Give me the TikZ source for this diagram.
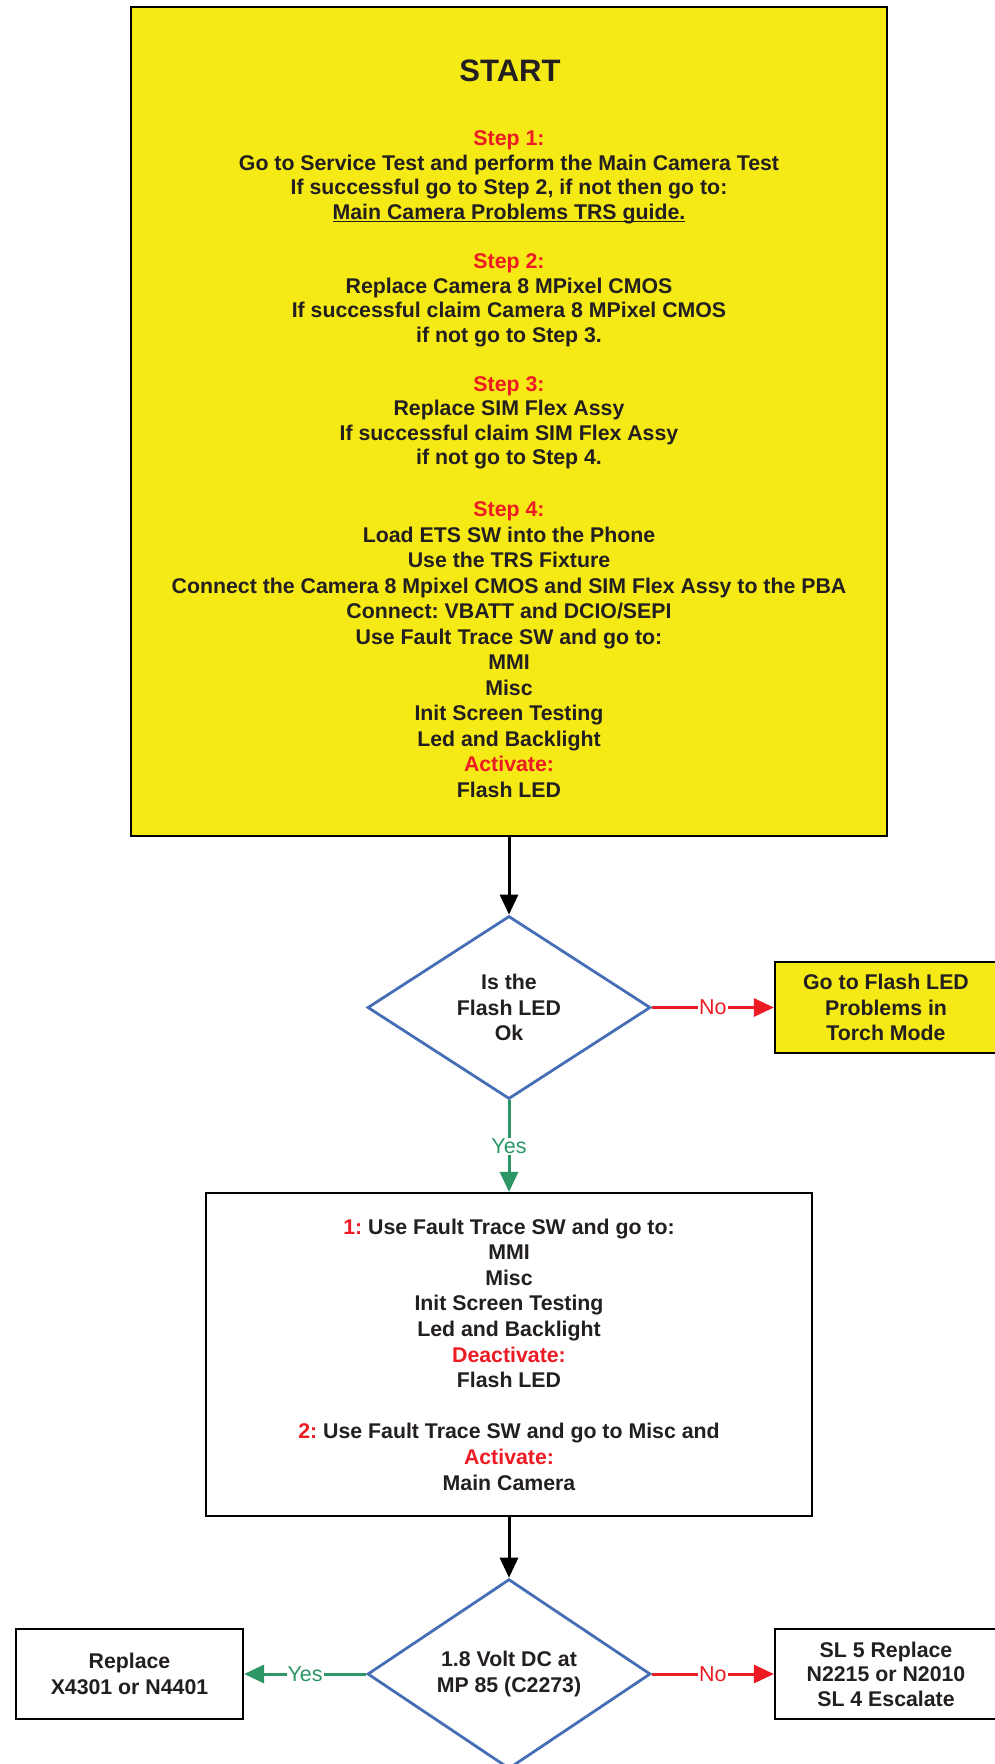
\documentclass[tikz,border=0pt]{standalone}
\usepackage{fontspec}
\setmainfont{Liberation Sans}
\usetikzlibrary{arrows.meta,shapes.geometric}
\definecolor{ybox}{RGB}{245,233,22}
\definecolor{rtxt}{RGB}{237,28,36}
\definecolor{gline}{RGB}{44,150,102}
\definecolor{bdia}{RGB}{70,110,182}
\definecolor{ktxt}{RGB}{35,31,32}
\newcommand\redtxt[1]{\textcolor{rtxt}{#1}}
\newcommand\ulx[1]{\setbox0\hbox{#1}\rlap{\rule[-3pt]{\wd0}{1.8pt}}#1}
\frenchspacing
\begin{document}
\begin{tikzpicture}[x=1pt,y=-1pt,
  tx/.style={font=\bfseries\fontsize{21.3pt}{24.5pt}\selectfont, text=ktxt, align=center, inner sep=0pt},
  txw/.style={tx, font=\bfseries\fontsize{21.3pt}{25.5pt}\selectfont},
  rectbox/.style={draw=black, line width=2.2pt, inner sep=0pt},
  decide/.style={diamond, draw=bdia, line width=2.8pt, fill=white, minimum width=283pt, minimum height=183pt, txw},
  lbl/.style={font=\fontsize{21.5pt}{21.5pt}\selectfont, fill=white, inner xsep=1pt, inner ysep=1pt},
  flowk/.style={draw=black, line width=3pt, -{Triangle[length=20pt,width=18pt]}},
  flowr/.style={draw=rtxt, line width=3pt, -{Triangle[length=20pt,width=18pt]}},
  flowg/.style={draw=gline, line width=3pt, -{Triangle[length=20pt,width=18pt]}}]
\useasboundingbox (0,0) rectangle (995,1764);
\fill[white] (0,0) rectangle (995,1764);
\clip (0,0) rectangle (995,1764);

% start box
\node[rectbox, fill=ybox, minimum width=756pt, minimum height=829pt] (start) at (509,421.5) {};
\node[tx, font=\bfseries\fontsize{31pt}{30pt}\selectfont] (title) at (510,71) {START};
\node[tx] (s1) at (509,177.5) {\redtxt{Step 1:}\\Go to Service Test and perform the Main Camera Test\\If successful go to Step 2, if not then go to:\\\ulx{Main Camera Problems TRS guide.}};
\node[tx] (s2) at (509,300.5) {\redtxt{Step 2:}\\Replace Camera 8 MPixel CMOS\\If successful claim Camera 8 MPixel CMOS\\if not go to Step 3.};
\node[tx] (s3) at (509,423) {\redtxt{Step 3:}\\Replace SIM Flex Assy\\If successful claim SIM Flex Assy\\if not go to Step 4.};
\node[txw] (s4) at (509,649.5) {\redtxt{Step 4:}\\Load ETS SW into the Phone\\Use the TRS Fixture\\Connect the Camera 8 Mpixel CMOS and SIM Flex Assy to the PBA\\Connect: VBATT and DCIO/SEPI\\Use Fault Trace SW and go to:\\MMI\\Misc\\Init Screen Testing\\Led and Backlight\\\redtxt{Activate:}\\Flash LED};

% decision 1
\node[decide] (d1) at (509,1007.5) {Is the\\Flash LED\\Ok};
\node[rectbox, fill=ybox, minimum width=222pt, minimum height=91pt, txw] (flash) at (886,1007.5) {Go to Flash LED\\Problems in\\Torch Mode};

% action box
\node[rectbox, fill=white, minimum width=606pt, minimum height=323pt, tx, font=\bfseries\fontsize{21.3pt}{25.6pt}\selectfont] (act) at (509,1354.5) {\redtxt{1:} Use Fault Trace SW and go to:\\MMI\\Misc\\Init Screen Testing\\Led and Backlight\\\redtxt{Deactivate:}\\Flash LED\\[25.6pt]\redtxt{2:} Use Fault Trace SW and go to Misc and\\\redtxt{Activate:}\\Main Camera};

% decision 2
\node[decide] (d2) at (509,1674) {1.8 Volt DC at\\MP 85 (C2273)};
\node[rectbox, fill=white, minimum width=227pt, minimum height=90pt, txw] (repl) at (129.5,1674) {Replace\\X4301 or N4401};
\node[rectbox, fill=white, minimum width=222pt, minimum height=90pt, tx] (esc) at (886,1674) {SL 5 Replace\\N2215 or N2010\\SL 4 Escalate};

% connectors
\draw[flowk] (start.south) -- (d1.north);
\draw[flowr] (d1.east) -- node[lbl, text=rtxt] (no1) {No} (flash.west);
\draw[flowg] (d1.south) -- node[lbl, text=gline] (yes1) {Yes} (act.north);
\draw[flowk] (act.south) -- (d2.north);
\draw[flowg] (d2.west) -- node[lbl, text=gline] (yes2) {Yes} (repl.east);
\draw[flowr] (d2.east) -- node[lbl, text=rtxt] (no2) {No} (esc.west);
\end{tikzpicture}
\end{document}
